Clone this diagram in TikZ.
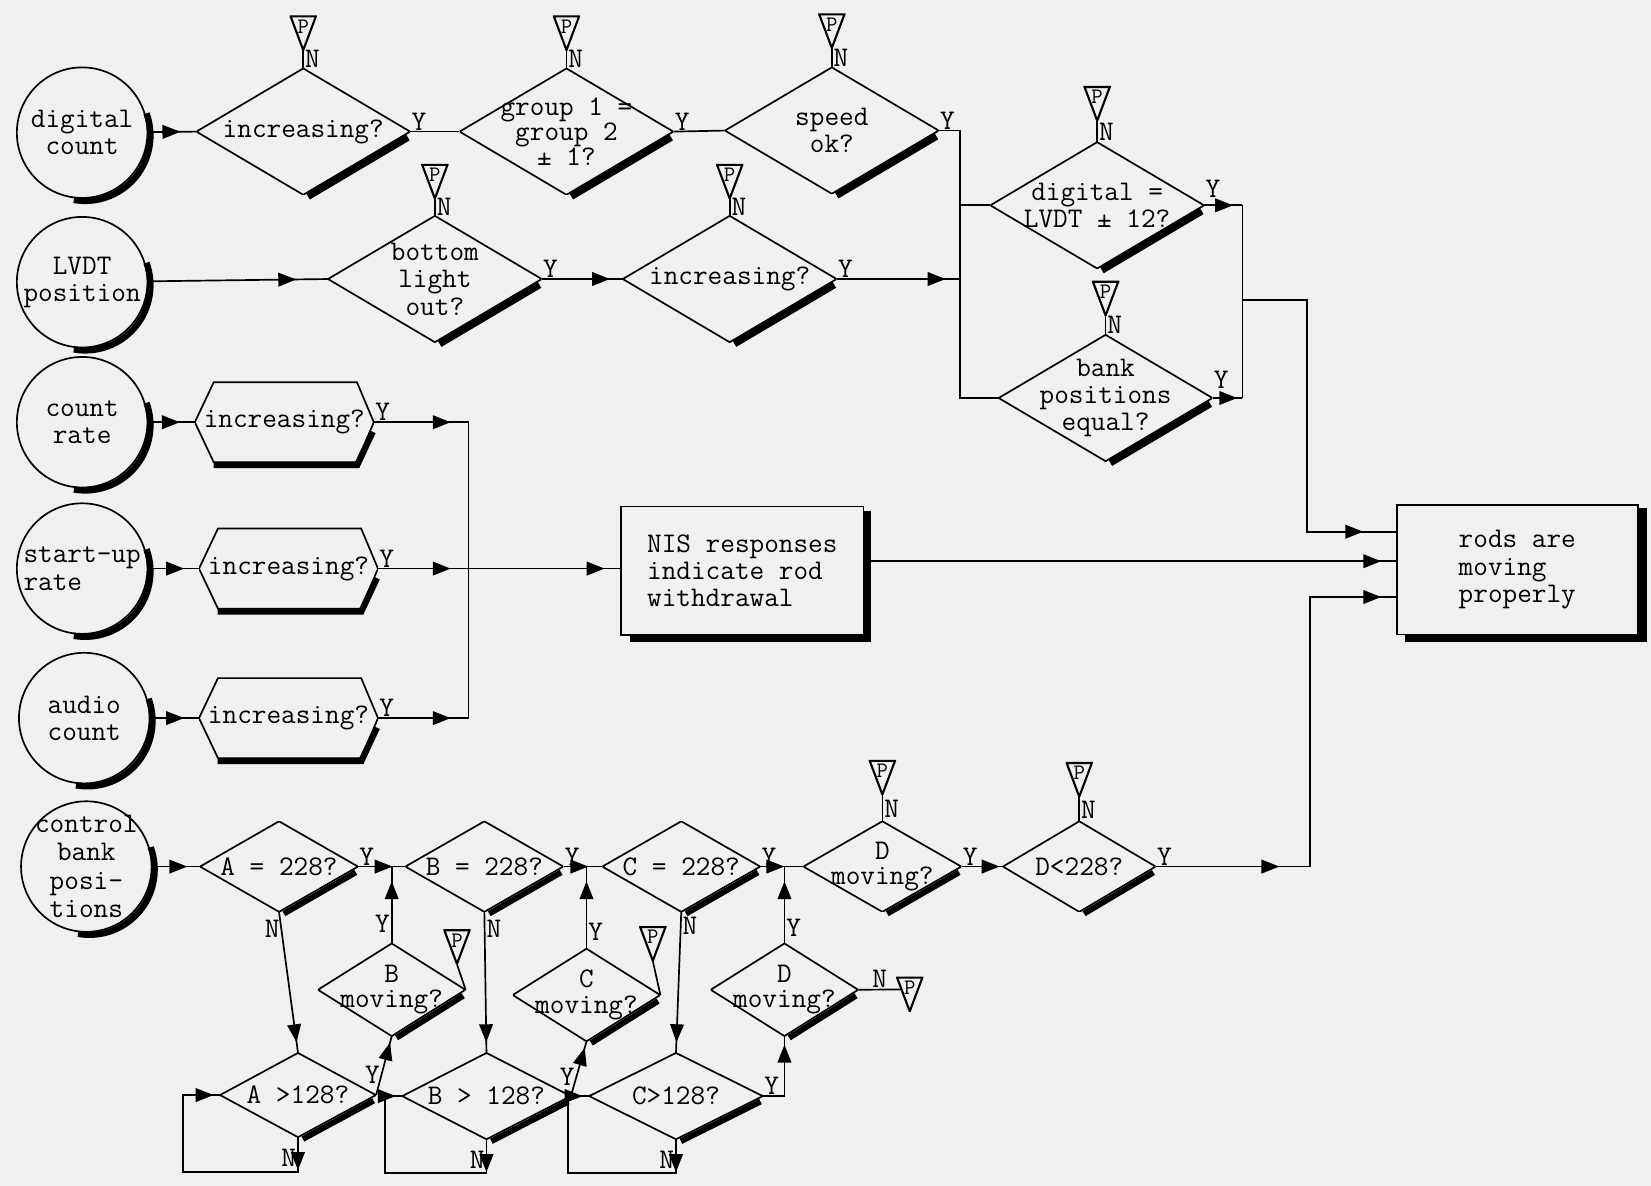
\documentclass[tikz,border=0pt]{standalone}
\usepackage{fontspec}
\newcommand\typer{\ttfamily}
\usetikzlibrary{arrows.meta,calc,positioning,decorations.markings}

\tikzset{
  every node/.style={font=\fontsize{27}{26}\typer},
  flow/.style={line width=1.6pt},
  heavy/.style={line width=6.5pt},
  arr/.style={flow, decoration={markings,
      mark=at position #1 with {\arrow{Triangle[length=17pt,width=13pt]}}},
    postaction={decorate}},
  arr/.default=-8pt,
  loopback/.style={flow, decoration={markings,
      mark=at position 31pt with {\arrow{Triangle[length=17pt,width=13pt]}},
      mark=at position -6pt with {\arrow{Triangle[length=17pt,width=13pt]}}},
    postaction={decorate}},
}

\begin{document}
\begin{tikzpicture}[x=1pt, y=-1pt,
  source/.style={circle, draw, flow, minimum size=124pt, inner sep=0pt, align=center},
  decision/.style={minimum width=203pt, minimum height=120pt, inner sep=0pt, align=center,
    path picture={\draw[flow] (path picture bounding box.west) -- (path picture bounding box.north)
      -- (path picture bounding box.east) -- (path picture bounding box.south) -- cycle;}},
  check/.style={decision, minimum width=150pt, minimum height=86pt, font=\fontsize{27}{24}\typer},
  hexa/.style={minimum width=170pt, minimum height=78pt, inner sep=0pt,
    path picture={\draw[flow] (path picture bounding box.west)
      -- ([shift={(18pt,-1pt)}]path picture bounding box.north west)
      -- ([shift={(-16pt,-1pt)}]path picture bounding box.north east)
      -- (path picture bounding box.east)
      -- ([shift={(-16pt,1pt)}]path picture bounding box.south east)
      -- ([shift={(18pt,1pt)}]path picture bounding box.south west) -- cycle;}},
  action/.style={draw, flow, minimum width=230pt, minimum height=122pt, align=left},
  pflag/.style={minimum width=26pt, minimum height=33pt, inner sep=0pt, text depth=12pt,
    font=\fontsize{21}{21}\typer,
    path picture={\draw[line width=2pt] ([shift={(1pt,-1pt)}]path picture bounding box.north west)
      -- ([shift={(-1pt,-1pt)}]path picture bounding box.north east)
      -- (path picture bounding box.south) -- cycle;}},
  lab/.style={inner sep=1pt}]

  % paper
  \path[use as bounding box, fill=black!6] (0,0) rectangle (1568,1126);

  % Inputs
  \node[source] (dc) at (78,126) {digital\\count};
  \node[source] (lv) at (78,268) {LVDT\\position};
  \node[source] (cr) at (78,401) {count\\rate};
  \node[source, align=left] (su) at (78,540) {start-up\\rate};
  \node[source] (ac) at (80,682) {audio\\count};
  \node[source, label={[align=center, font=\fontsize{27}{27}\typer]center:control\\bank\\posi-\\tions}] (cb) at (82,823) {};

  % Upper tests
  \node[decision] (d1) at (288,125) {increasing?};
  \node[decision, font=\fontsize{27}{23}\typer] (d2) at (538,125) {group 1 =\\group 2\\± 1?};
  \node[decision] (d3) at (790,124) {speed\\ok?};
  \node[decision] (d6) at (413,265) {bottom\\light\\out?};
  \node[decision] (d7) at (693,265) {increasing?};
  \node[decision] (d4) at (1042,195) {digital =\\LVDT ± 12?};
  \node[decision] (d5) at (1050,378) {bank\\positions\\equal?};

  % Count tests
  \node[hexa] (h1) at (270,401) {increasing?};
  \node[hexa] (h2) at (274,540) {increasing?};
  \node[hexa] (h3) at (274,682) {increasing?};

  \node[action] (nis) at (705,542) {NIS responses\\indicate rod\\withdrawal};
  \node[action, minimum width=229pt, minimum height=123pt] (rods) at (1441,541) {rods are\\moving\\properly};

  % Bank tests
  \node[check] (dA) at (265,823) {A = 228?};
  \node[check] (dB) at (460,823) {B = 228?};
  \node[check] (dC) at (647,823) {C = 228?};
  \node[check] (dD) at (838,823) {D\\moving?};
  \node[check, minimum width=145pt] (dL) at (1025,823) {D<228?};
  \node[check, minimum width=148pt, minimum height=80pt] (A2) at (283,1040) {A >128?};
  \node[check, minimum width=160pt, minimum height=82pt] (B2) at (462,1041) {B > 128?};
  \node[check, minimum width=165pt, minimum height=82pt] (C2) at (642,1041) {C>128?};
  \node[check, minimum width=140pt, minimum height=88pt] (Bm) at (372,940) {B\\moving?};
  \node[check, minimum width=140pt, minimum height=88pt] (Cm) at (557,945) {C\\moving?};
  \node[check, minimum width=140pt, minimum height=88pt] (Dm) at (745,940) {D\\moving?};

  % P flags
  \node[pflag, above=17pt of d1] (p1) {P};
  \node[pflag, above=17pt of d2] (p2) {P};
  \node[pflag, above=18pt of d3] (p3) {P};
  \node[pflag, above=16pt of d6] (p6) {P};
  \node[pflag, above=16pt of d7] (p7) {P};
  \node[pflag, above=20pt of d4] (p4) {P};
  \node[pflag, above=18pt of d5] (p5) {P};
  \node[pflag, above=25pt of dD] (pD) {P};
  \node[pflag, above=23pt of dL] (pL) {P};
  \node[pflag] (pB) at (434,899) {P};
  \node[pflag] (pC) at (620,896) {P};
  \node[pflag] (pDm) at (864,944) {P};

  \foreach \d in {1,2,3,6,7,4,5}
    \draw[flow] (p\d.south) -- node[lab, right, pos=0.5] {N} (d\d.north);
  \draw[flow] (pD.south) -- node[lab, right, pos=0.55] {N} (dD.north);
  \draw[flow] (pL.south) -- node[lab, right, pos=0.55] {N} (dL.north);
  \draw[flow] (Bm.east) -- (pB.south);
  \draw[flow] (Cm.east) -- (pC.south);
  \draw[flow] (Dm.east) -- node[lab, above] {N} ($(pDm.north west)!0.37!(pDm.south)$);

  % Shadows
  \foreach \c in {dc,lv,cr,su,ac,cb}
    \draw[line width=6pt] ([shift={(3pt,-2pt)}]\c.-100) arc[start angle=-100, end angle=20, radius=62pt];
  \foreach \d in {d1,d2,d3,d4,d5,d6,d7}
    \draw[heavy, shorten <=3pt, shorten >=5pt] ([shift={(2pt,-3pt)}]\d.south) -- ([shift={(2pt,-3pt)}]\d.east);
  \foreach \d in {dA,dB,dC,dD,dL,A2,B2,C2,Bm,Cm,Dm}
    \draw[line width=5.5pt, shorten <=3pt, shorten >=5pt] ([shift={(2pt,-3pt)}]\d.south) -- ([shift={(2pt,-3pt)}]\d.east);
  \foreach \h in {h1,h2,h3}
    \draw[line width=6pt, shorten >=10pt] ([shift={(18pt,-1.5pt)}]\h.south west) -- ([shift={(-16pt,-1.5pt)}]\h.south east) -- ([shift={(3pt,0pt)}]\h.east);
  \draw[line width=6pt] ([shift={(3pt,-5pt)}]nis.north east) -- ([shift={(3pt,-3pt)}]nis.south east) -- ([shift={(9pt,-3pt)}]nis.south west);
  \draw[line width=7pt] ([shift={(4pt,-4pt)}]rods.north east) -- ([shift={(4pt,-3pt)}]rods.south east) -- ([shift={(9pt,-3pt)}]rods.south west);

  % Upper flow
  \coordinate (jt) at (912,124);
  \coordinate (jb) at (912,378);
  \coordinate (kt) at (1180,195);
  \coordinate (kb) at (1180,378);
  \coordinate (km) at (1180,285);
  \draw[arr=-15pt] (dc) -- (d1.west);
  \draw[flow] (d1.east) -- (d2.west);
  \draw[flow] (d2.east) -- (d3.west);
  \draw[flow] (d3.east) -- (jt) -- (jb) -- (d5.west);
  \draw[flow] (d4.west -| jt) -- (d4.west);
  \draw[arr=-30pt] (lv) -- (d6.west);
  \draw[arr=-12pt] (d6.east) -- (d7.west);
  \draw[arr=-14pt] (d7.east) -- (d7.east -| jt);
  \draw[arr=-9pt] (d4.east) -- (kt);
  \draw[arr=-5pt] (d5.east) -- (kb);
  \draw[flow] (kt) -- (kb);
  \draw[arr=-31pt] (km) -- ++(61,0) |- ([yshift=36pt]rods.west);

  % Count flow
  \coordinate (b1) at (445,401);
  \coordinate (b2) at (445,540);
  \coordinate (b3) at (445,682);
  \draw[arr=-14pt] (cr) -- (h1.west);
  \draw[arr=-14pt] (su) -- (h2.west);
  \draw[arr=-14pt] (ac) -- (h3.west);
  \draw[arr=-17pt] (h1.east) -- (b1);
  \draw[arr=-17pt] (h2.east) -- (b2);
  \draw[arr=-17pt] (h3.east) -- (b3);
  \draw[flow] (b1) -- (b3);
  \draw[arr=-15pt] (b2) -- (b2 -| nis.west);
  \draw[arr=-14pt] ([yshift=9pt]nis.east) -- ([yshift=9pt]nis.east -| rods.west);

  % Bank flow
  \coordinate (jB) at (372,823);
  \coordinate (jC) at (557,823);
  \coordinate (jD) at (745,823);
  \coordinate (cL) at (1244,823);
  \draw[arr=-12pt] (cb) -- (dA.west);
  \draw[arr=-12pt] (dA.east) -- (dB.west);
  \draw[arr=-13pt] (dB.east) -- (dC.west);
  \draw[arr=-18pt] (dC.east) -- (dD.west);
  \draw[arr=-3pt] (dD.east) -- (dL.west);
  \draw[arr=-29pt] (dL.east) -- (cL);
  \draw[arr=-14pt] (cL) |- ([yshift=-26pt]rods.west);

  \draw[arr=-10pt] (dA.south) -- node[lab, left, pos=0.12] {N} (A2.north);
  \draw[arr=-10pt] (dB.south) -- node[lab, right, pos=0.12] {N} (B2.north);
  \draw[arr=-10pt] (dC.south) -- node[lab, right, pos=0.1] {N} (C2.north);

  \draw[loopback] (A2.south) -- node[lab, left, pos=0.6] {N} ++(0,33) -| ($(A2.west)+(-35,0)$) -- (A2.west);
  \draw[loopback] (B2.south) -- node[lab, left, pos=0.6] {N} ++(0,32) -| ($(B2.west)+(-16,0)$) -- (B2.west);
  \draw[loopback] (C2.south) -- node[lab, left, pos=0.6] {N} ++(0,32) -| ($(C2.west)+(-20,0)$) -- (C2.west);

  \draw[arr=-6pt] (A2.east) -- node[lab, left, pos=0.35] {Y} (Bm.south);
  \draw[arr=-6pt] (B2.east) -- node[lab, left, pos=0.35] {Y} (Cm.south);
  \draw[arr=-8pt] (C2.east) -| node[lab, above, pos=0.2] {Y} (Dm.south);
  \draw[arr=-14pt] (Bm.north) -- node[lab, left, pos=0.25] {Y} (jB);
  \draw[arr=-14pt] (Cm.north) -- node[lab, right, pos=0.2] {Y} (jC);
  \draw[arr=-14pt] (Dm.north) -- node[lab, right, pos=0.2] {Y} (jD);

  % Y labels
  \foreach \d in {d1,d2,d3,d6,d7,h1,h2,h3,dA,dB,dC,dD,dL}
    \node[lab, anchor=south west] at (\d.east) {Y};
  \node[lab, anchor=south west] at ([yshift=6pt]d4.east) {Y};
  \node[lab, anchor=south west] at ([yshift=8pt]d5.east) {Y};

\end{tikzpicture}
\end{document}
